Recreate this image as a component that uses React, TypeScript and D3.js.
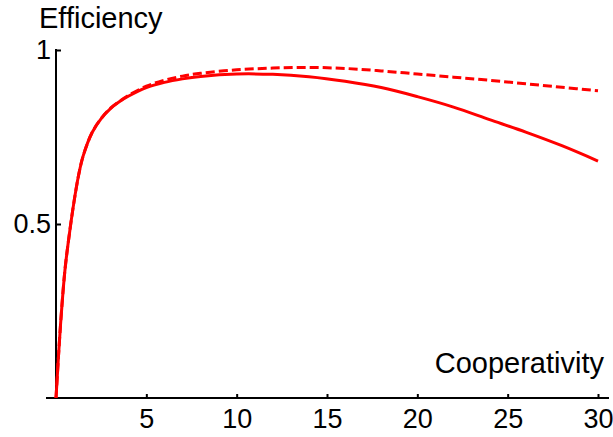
import React, { useEffect, useRef } from 'react';
import * as d3 from 'd3';

// values
const xs = [0, 0.25, 0.5, 0.75, 1, 1.25, 1.5, 2, 2.5, 3, 3.5, 4, 5, 6, 7, 8, 10, 12, 14, 16, 18, 20, 22, 24, 26, 28, 30];
const solid = [0, 0.21, 0.37, 0.475, 0.565, 0.64, 0.695, 0.763, 0.803, 0.831, 0.851, 0.867, 0.892, 0.907, 0.917, 0.924, 0.931, 0.93, 0.923, 0.91, 0.892, 0.866, 0.836, 0.8, 0.764, 0.725, 0.681];
const dashed = [0, 0.21, 0.37, 0.475, 0.565, 0.64, 0.695, 0.763, 0.803, 0.832, 0.852, 0.869, 0.896, 0.913, 0.925, 0.933, 0.943, 0.948, 0.95, 0.947, 0.94, 0.931, 0.922, 0.913, 0.903, 0.893, 0.883];
const xTicks = [5, 10, 15, 20, 25, 30];
const yTicks = [0.5, 1];
const xTitle = 'Cooperativity';
const yTitle = 'Efficiency';

const width = 613;
const height = 437;
const font = '"Liberation Sans", Arial, sans-serif';

function EfficiencyChart() {
  const svgRef = useRef<SVGSVGElement>(null);

  useEffect(() => {
    if (!svgRef.current) return;
    const svg = d3.select(svgRef.current);
    svg.selectAll('*').remove();

    const x = d3.scaleLinear().domain([0, 30]).range([56, 598]);
    const y = d3.scaleLinear().domain([0, 1]).range([398, 50]);

    // axes
    const xAxis = svg.append('g')
      .attr('transform', `translate(0,${y(0)})`)
      .call(d3.axisBottom(x).tickValues(xTicks).tickSizeInner(-4).tickSizeOuter(0).tickPadding(11).tickFormat(d3.format('d')));
    xAxis.select('.domain').remove();
    xAxis.selectAll('line').attr('stroke', '#000').attr('stroke-width', 2);
    xAxis.selectAll('text').attr('font-size', 27).attr('font-family', font).attr('fill', '#000');

    const yAxis = svg.append('g')
      .attr('transform', `translate(${x(0)},0)`)
      .call(d3.axisLeft(y).tickValues(yTicks).tickSizeInner(-5).tickSizeOuter(0).tickPadding(5).tickFormat(d => String(d)));
    yAxis.select('.domain').remove();
    yAxis.selectAll('line').attr('stroke', '#000').attr('stroke-width', 2);
    yAxis.selectAll('text').attr('font-size', 27).attr('font-family', font).attr('fill', '#000');

    svg.append('line')
      .attr('x1', 46).attr('x2', 609)
      .attr('y1', y(0)).attr('y2', y(0))
      .attr('stroke', '#000').attr('stroke-width', 2);
    svg.append('line')
      .attr('x1', x(0)).attr('x2', x(0))
      .attr('y1', y(1) - 1).attr('y2', y(0))
      .attr('stroke', '#000').attr('stroke-width', 2);

    // curves
    const line = d3.line<number>()
      .x((_, i) => x(xs[i]))
      .y(d => y(d))
      .curve(d3.curveCatmullRom.alpha(0.5));

    svg.append('path')
      .attr('d', line(dashed))
      .attr('fill', 'none')
      .attr('stroke', '#ff0000')
      .attr('stroke-width', 3)
      .attr('stroke-dasharray', '9,4');
    svg.append('path')
      .attr('d', line(solid))
      .attr('fill', 'none')
      .attr('stroke', '#ff0000')
      .attr('stroke-width', 3);

    // titles
    svg.append('text')
      .attr('x', 39).attr('y', 28)
      .attr('font-size', 29).attr('font-family', font)
      .text(yTitle);
    svg.append('text')
      .attr('x', 604).attr('y', 373)
      .attr('text-anchor', 'end')
      .attr('font-size', 29).attr('font-family', font)
      .text(xTitle);
  }, []);

  return (
    <svg ref={svgRef} width={width} height={height}
      style={{ position: 'absolute', left: 0, top: 0, background: '#fff' }} />
  );
}

export default function App() {
  return <EfficiencyChart />;
}
